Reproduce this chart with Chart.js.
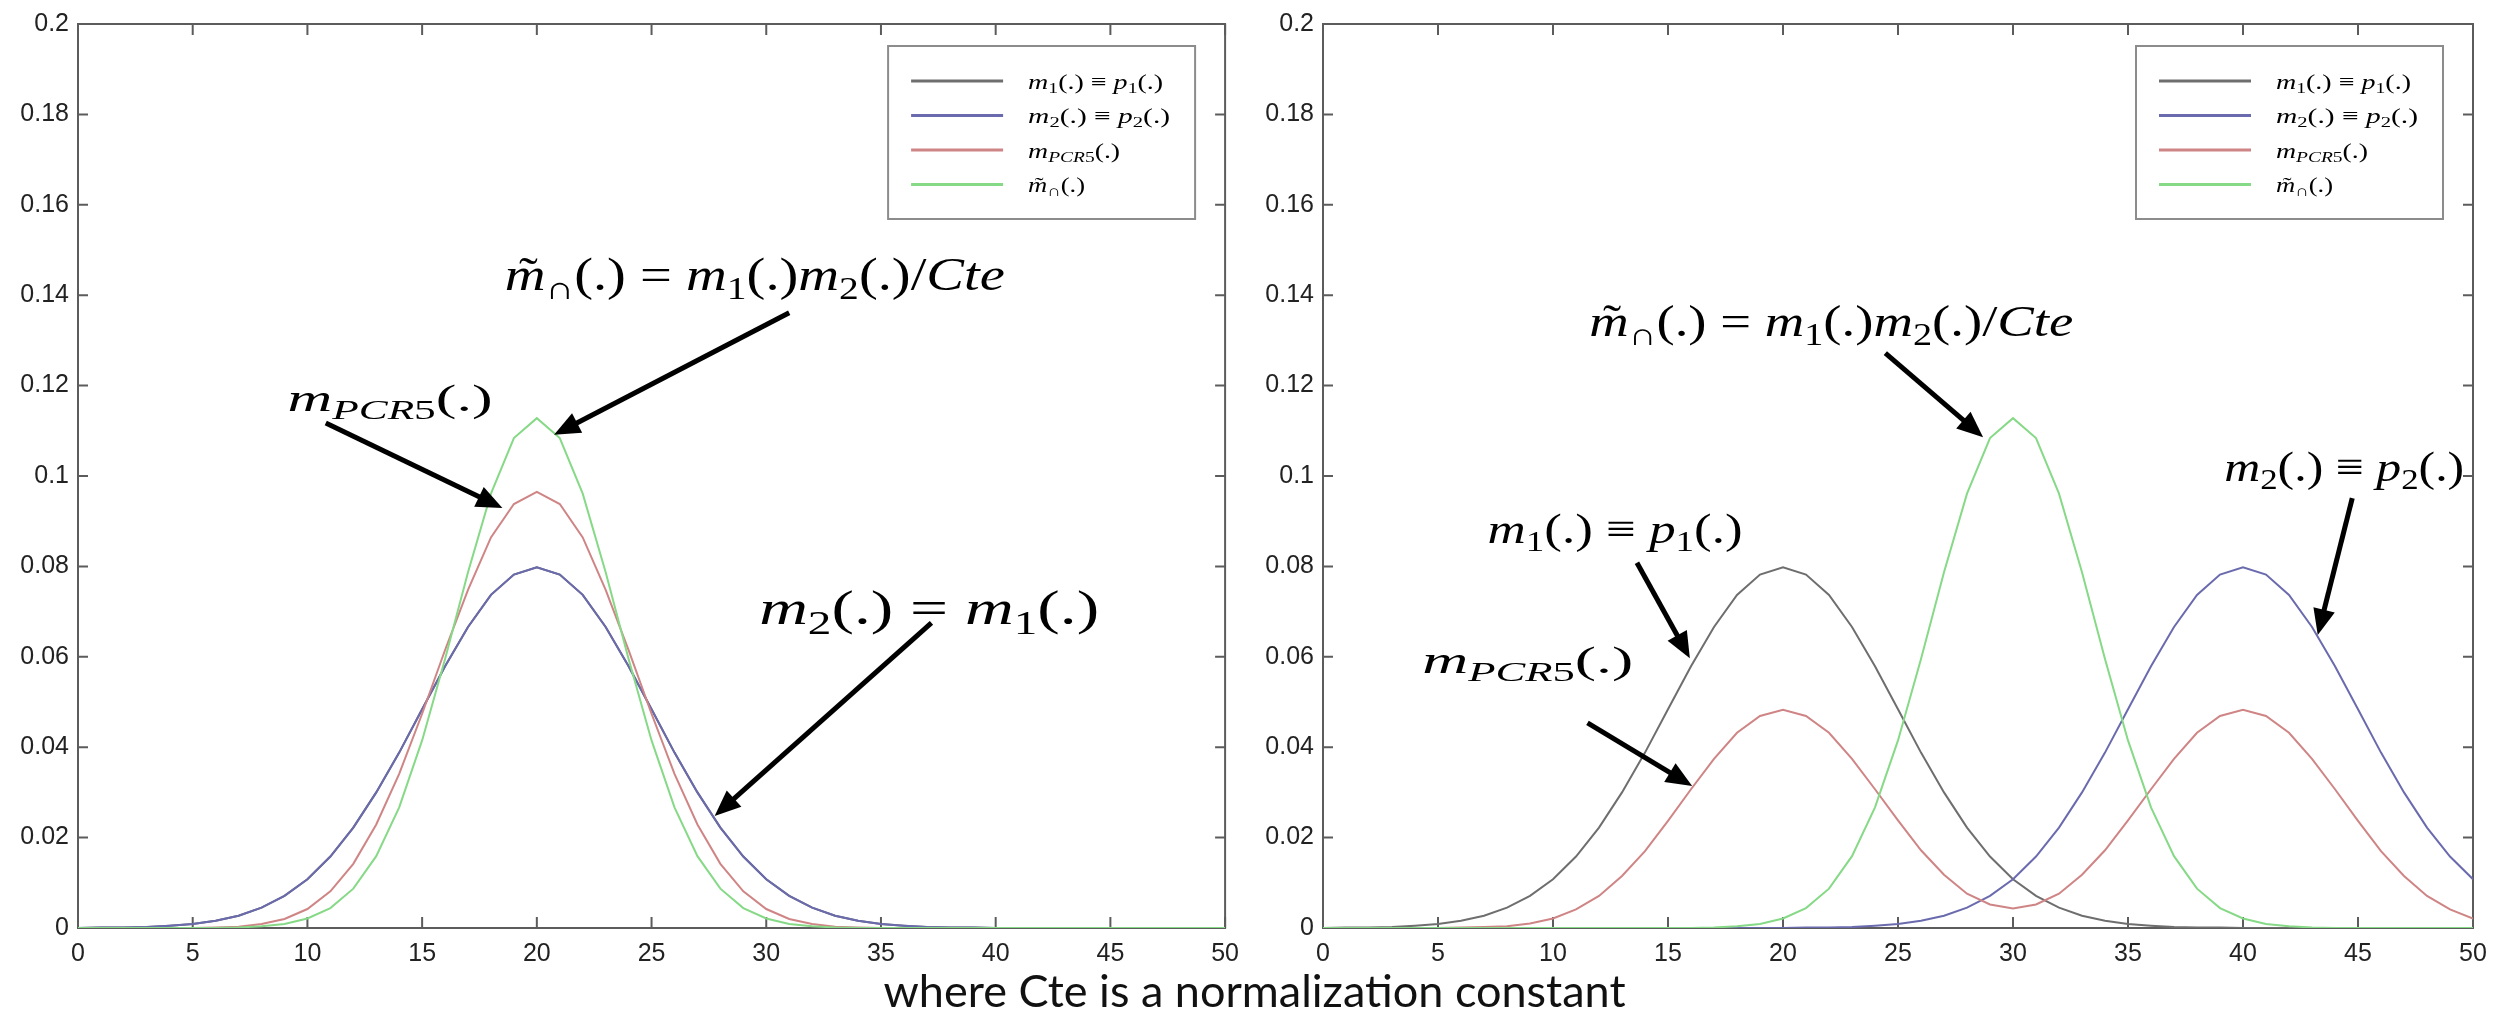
<!DOCTYPE html>
<html>
<head>
<meta charset="utf-8">
<script src="https://cdn.jsdelivr.net/npm/chart.js@4/dist/chart.umd.min.js"></script>
<style>
  html, body { margin: 0; padding: 0; background: #fff; }
  body { width: 2509px; height: 1025px; position: relative; overflow: hidden; }
  canvas { position: absolute; top: 0; }
  #left { left: 0; }
  #right { left: 1250px; }
  #caption { position: absolute; left: 0; width: 2509px; top: 968px; line-height: 45px;
             text-align: center; font-family: Lato, 'Open Sans', sans-serif; font-size: 45px; color: #111; }
</style>
</head>
<body>
<canvas id="left" width="1250" height="980"></canvas>
<canvas id="right" width="1259" height="980"></canvas>
<div id="caption">where Cte is a normalization constant</div>
<script>
// ---- data (x = 0..50, step 1) ----
const xValues = [0,1,2,3,4,5,6,7,8,9,10,11,12,13,14,15,16,17,18,19,20,21,22,23,24,25,
                 26,27,28,29,30,31,32,33,34,35,36,37,38,39,40,41,42,43,44,45,46,47,48,49,50];
const xTicks = [0, 5, 10, 15, 20, 25, 30, 35, 40, 45, 50];
const yTicks = [0, 0.02, 0.04, 0.06, 0.08, 0.1, 0.12, 0.14, 0.16, 0.18, 0.2];
const yTickLabels = ['0', '0.02', '0.04', '0.06', '0.08', '0.1', '0.12', '0.14', '0.16', '0.18', '0.2'];

// left panel: m1 = m2
const leftM1 = [0,.0001,.0001,.0002,.0005,.0009,.0016,.0027,.0045,.0071,.0108,.0158,.0222,.0300,.0388,.0484,
  .0579,.0666,.0737,.0782,.0798,.0782,.0737,.0666,.0579,.0484,.0388,.0300,.0222,.0158,.0108,.0071,.0045,.0027,
  .0016,.0009,.0005,.0002,.0001,.0001,0,0,0,0,0,0,0,0,0,0,0];
const leftM2 = [0,.0001,.0001,.0002,.0005,.0009,.0016,.0027,.0045,.0071,.0108,.0158,.0222,.0300,.0388,.0484,
  .0579,.0666,.0737,.0782,.0798,.0782,.0737,.0666,.0579,.0484,.0388,.0300,.0222,.0158,.0108,.0071,.0045,.0027,
  .0016,.0009,.0005,.0002,.0001,.0001,0,0,0,0,0,0,0,0,0,0,0];
const leftPCR5 = [0,0,0,0,0,0,.0001,.0003,.0009,.0020,.0042,.0081,.0142,.0229,.0341,.0474,.0615,.0748,.0864,
  .0938,.0965,.0938,.0864,.0748,.0615,.0474,.0341,.0229,.0142,.0081,.0042,.0020,.0009,.0003,.0001,
  0,0,0,0,0,0,0,0,0,0,0,0,0,0,0,0];
const leftConj = [0,0,0,0,0,0,0,.0001,.0004,.0009,.0021,.0044,.0087,.0159,.0267,.0415,.0595,.0787,.0961,
  .1084,.1128,.1084,.0961,.0787,.0595,.0415,.0267,.0159,.0087,.0044,.0021,.0009,.0004,.0001,
  0,0,0,0,0,0,0,0,0,0,0,0,0,0,0,0,0];

// right panel: m1 centred on 20, m2 centred on 40
const rightM1 = [0,.0001,.0001,.0002,.0005,.0009,.0016,.0027,.0045,.0071,.0108,.0158,.0222,.0300,.0388,.0484,
  .0579,.0666,.0737,.0782,.0798,.0782,.0737,.0666,.0579,.0484,.0388,.0300,.0222,.0158,.0108,.0071,.0045,.0027,
  .0016,.0009,.0005,.0002,.0001,.0001,0,0,0,0,0,0,0,0,0,0,0];
const rightM2 = [0,0,0,0,0,0,0,0,0,0,0,0,0,0,0,0,0,0,0,0,0,.0001,.0001,.0002,.0005,.0009,.0016,.0027,.0045,
  .0071,.0108,.0158,.0222,.0300,.0388,.0484,.0579,.0666,.0737,.0782,.0798,.0782,.0737,.0666,.0579,.0484,
  .0388,.0300,.0222,.0158,.0108];
const rightPCR5 = [0,0,0,0,0,0,.0001,.0002,.0004,.0010,.0021,.0041,.0071,.0115,.0170,.0237,.0307,.0374,.0432,
  .0469,.0483,.0469,.0432,.0374,.0307,.0238,.0172,.0118,.0076,.0052,.0043,.0052,.0076,.0118,.0172,.0238,
  .0307,.0374,.0432,.0469,.0483,.0469,.0432,.0374,.0307,.0237,.0170,.0115,.0071,.0041,.0021];
const rightConj = [0,0,0,0,0,0,0,0,0,0,0,0,0,0,0,0,0,.0001,.0004,.0009,.0021,.0044,.0087,.0159,.0267,.0415,
  .0595,.0787,.0961,.1084,.1128,.1084,.0961,.0787,.0595,.0415,.0267,.0159,.0087,.0044,.0021,.0009,.0004,
  .0001,0,0,0,0,0,0,0];

const seriesNames = ['m1(.) = p1(.)', 'm2(.) = p2(.)', 'mPCR5(.)', 'm~cap(.)'];
const seriesColors = ['#6e6e6e', '#6a6aae', '#cf8585', '#86d986'];

// math text pieces: [text, style]  r=roman i=italic s*=subscript ti=italic with tilde
const legendMath = [
  [['m', 'i'], ['1', 'sr'], ['(.) \u2261 ', 'r'], ['p', 'i'], ['1', 'sr'], ['(.)', 'r']],
  [['m', 'i'], ['2', 'sr'], ['(.) \u2261 ', 'r'], ['p', 'i'], ['2', 'sr'], ['(.)', 'r']],
  [['m', 'i'], ['PCR', 'si'], ['5', 'sr'], ['(.)', 'r']],
  [['m', 'ti'], ['\u2229', 'sr'], ['(.)', 'r']]
];
const legendWidths = [135, 142, 92, 57];

const conjFormula = [['m', 'ti'], ['\u2229', 'sr'], ['(.) = ', 'r'], ['m', 'i'], ['1', 'sr'], ['(.)', 'r'],
  ['m', 'i'], ['2', 'sr'], ['(.)/', 'r'], ['Cte', 'i']];
const pcr5Text = [['m', 'i'], ['PCR', 'si'], ['5', 'sr'], ['(.)', 'r']];

const leftNotes = {
  labels: [
    { segs: conjFormula, x: 29.5, y: 0.1438, size: 46, w: 500 },
    { segs: pcr5Text, x: 13.6, y: 0.1165, size: 38, w: 205 },
    { segs: [['m', 'i'], ['2', 'sr'], ['(.) = ', 'r'], ['m', 'i'], ['1', 'sr'], ['(.)', 'r']],
      x: 37.1, y: 0.0699, size: 48, w: 340 }
  ],
  arrows: [
    { from: [31.0, 0.1361], to: [20.75, 0.1091] },
    { from: [10.8, 0.1117], to: [18.5, 0.0929] },
    { from: [37.2, 0.0675], to: [27.75, 0.0248] }
  ]
};
const rightNotes = {
  labels: [
    { segs: conjFormula, x: 22.1, y: 0.1334, size: 45, w: 484 },
    { segs: legendMath[1], x: 44.4, y: 0.1013, size: 43, w: 240 },
    { segs: legendMath[0], x: 12.7, y: 0.0876, size: 43, w: 255 },
    { segs: pcr5Text, x: 8.9, y: 0.0585, size: 38, w: 211 }
  ],
  arrows: [
    { from: [24.45, 0.1272], to: [28.7, 0.1086] },
    { from: [44.75, 0.0951], to: [43.25, 0.0648] },
    { from: [13.65, 0.0808], to: [15.95, 0.0597] },
    { from: [11.5, 0.0454], to: [16.05, 0.0314] }
  ]
};

// ---- drawing helpers ----
const mathFont = "'Liberation Serif', 'DejaVu Serif', serif";

function segFont(style, size) {
  const sub = style[0] === 's';
  const it = style.indexOf('i') >= 0;
  return (it ? 'italic ' : '') + (sub ? size * 0.7 : size).toFixed(1) + 'px ' + mathFont;
}

function drawMath(ctx, segs, x, cy, size, targetW, align) {
  let w = 0;
  segs.forEach(([t, s]) => { ctx.font = segFont(s, size); w += ctx.measureText(t).width; });
  const sx = targetW ? targetW / w : 1;
  const left = align === 'left' ? x : x - w * sx / 2;
  ctx.save();
  ctx.translate(left, cy + 0.25 * size);
  ctx.scale(sx, 1);
  ctx.fillStyle = '#000';
  ctx.textBaseline = 'alphabetic';
  let cx = 0;
  segs.forEach(([t, s]) => {
    ctx.font = segFont(s, size);
    ctx.textAlign = 'left';
    const tw = ctx.measureText(t).width;
    ctx.fillText(t, cx, s[0] === 's' ? 0.2 * size : 0);
    if (s === 'ti') {
      ctx.font = size + 'px ' + mathFont;
      ctx.textAlign = 'center';
      ctx.fillText('\u02DC', cx + tw * 0.58, -0.02 * size);
    }
    cx += tw;
  });
  ctx.restore();
}

function drawArrow(ctx, x1, y1, x2, y2) {
  const a = Math.atan2(y2 - y1, x2 - x1);
  const hl = 26, hw = 11;
  const bx = x2 - Math.cos(a) * hl, by = y2 - Math.sin(a) * hl;
  ctx.save();
  ctx.strokeStyle = '#000';
  ctx.fillStyle = '#000';
  ctx.lineWidth = 5;
  ctx.beginPath();
  ctx.moveTo(x1, y1);
  ctx.lineTo(bx + Math.cos(a) * 3, by + Math.sin(a) * 3);
  ctx.stroke();
  ctx.beginPath();
  ctx.moveTo(x2, y2);
  ctx.lineTo(bx - Math.sin(a) * hw, by + Math.cos(a) * hw);
  ctx.lineTo(bx + Math.sin(a) * hw, by - Math.cos(a) * hw);
  ctx.closePath();
  ctx.fill();
  ctx.restore();
}

// matlab style box with inward ticks on all four sides
const matlabAxes = {
  id: 'matlabAxes',
  beforeDatasetsDraw(chart) {
    const { ctx, chartArea: a, scales: { x, y } } = chart;
    ctx.save();
    ctx.strokeStyle = '#5c5c5c';
    ctx.lineWidth = 2;
    ctx.strokeRect(a.left, a.top, a.right - a.left, a.bottom - a.top);
    ctx.beginPath();
    x.ticks.forEach(t => {
      const px = x.getPixelForValue(t.value);
      ctx.moveTo(px, a.bottom); ctx.lineTo(px, a.bottom - 11);
      ctx.moveTo(px, a.top); ctx.lineTo(px, a.top + 11);
    });
    y.ticks.forEach(t => {
      const py = y.getPixelForValue(t.value);
      ctx.moveTo(a.left, py); ctx.lineTo(a.left + 10, py);
      ctx.moveTo(a.right, py); ctx.lineTo(a.right - 10, py);
    });
    ctx.stroke();
    ctx.restore();
  }
};

const mathLegend = {
  id: 'mathLegend',
  afterDatasetsDraw(chart) {
    const { ctx, chartArea: a } = chart;
    const left = a.right - 337, top = a.top + 22;
    ctx.save();
    ctx.fillStyle = '#fff';
    ctx.fillRect(left, top, 307, 173);
    ctx.strokeStyle = '#8c8c8c';
    ctx.lineWidth = 2;
    ctx.strokeRect(left, top, 307, 173);
    chart.data.datasets.forEach((ds, i) => {
      const ry = top + 35 + i * 34.5;
      ctx.strokeStyle = ds.borderColor;
      ctx.lineWidth = 3;
      ctx.beginPath();
      ctx.moveTo(left + 23, ry);
      ctx.lineTo(left + 115, ry);
      ctx.stroke();
      drawMath(ctx, legendMath[i], left + 140, ry + 2, 22, legendWidths[i], 'left');
    });
    ctx.restore();
  }
};

const notesPlugin = {
  id: 'notes',
  afterDraw(chart, args, opts) {
    const { ctx, scales: { x, y } } = chart;
    (opts.arrows || []).forEach(ar => drawArrow(ctx,
      x.getPixelForValue(ar.from[0]), y.getPixelForValue(ar.from[1]),
      x.getPixelForValue(ar.to[0]), y.getPixelForValue(ar.to[1])));
    (opts.labels || []).forEach(l => drawMath(ctx, l.segs,
      x.getPixelForValue(l.x), y.getPixelForValue(l.y), l.size, l.w));
  }
};

function makeChart(id, series, notes, yAxisWidth, padRight) {
  const datasets = series.map((vals, i) => ({
    label: seriesNames[i],
    data: vals.map((v, k) => ({ x: xValues[k], y: v })),
    borderColor: seriesColors[i],
    borderWidth: 2,
    pointRadius: 0,
    tension: 0,
    fill: false,
    order: series.length - 1 - i
  }));
  const tickFont = { family: "'Liberation Sans', Arial, sans-serif", size: 25 };
  return new Chart(document.getElementById(id), {
    type: 'line',
    data: { datasets: datasets },
    options: {
      responsive: false,
      animation: false,
      layout: { padding: { left: 0, top: 23, right: padRight, bottom: 0 } },
      plugins: {
        legend: { display: false },
        tooltip: { enabled: false },
        notes: notes
      },
      scales: {
        x: {
          type: 'linear', min: 0, max: 50,
          afterBuildTicks: s => { s.ticks = xTicks.map(v => ({ value: v })); },
          afterFit: s => { s.height = 52; },
          grid: { display: false, drawTicks: false },
          border: { display: false },
          ticks: { color: '#222', font: tickFont, padding: 11, maxRotation: 0, autoSkip: false,
                   callback: v => String(v) }
        },
        y: {
          type: 'linear', min: 0, max: 0.2,
          afterBuildTicks: s => { s.ticks = yTicks.map(v => ({ value: v })); },
          afterFit: s => { s.width = yAxisWidth; },
          grid: { display: false, drawTicks: false },
          border: { display: false },
          ticks: { color: '#222', font: tickFont, padding: 9, autoSkip: false,
                   callback: (v, i) => yTickLabels[i] }
        }
      }
    },
    plugins: [matlabAxes, mathLegend, notesPlugin]
  });
}

makeChart('left', [leftM1, leftM2, leftPCR5, leftConj], leftNotes, 78, 23);
makeChart('right', [rightM1, rightM2, rightPCR5, rightConj], rightNotes, 73, 36);
</script>
</body>
</html>
